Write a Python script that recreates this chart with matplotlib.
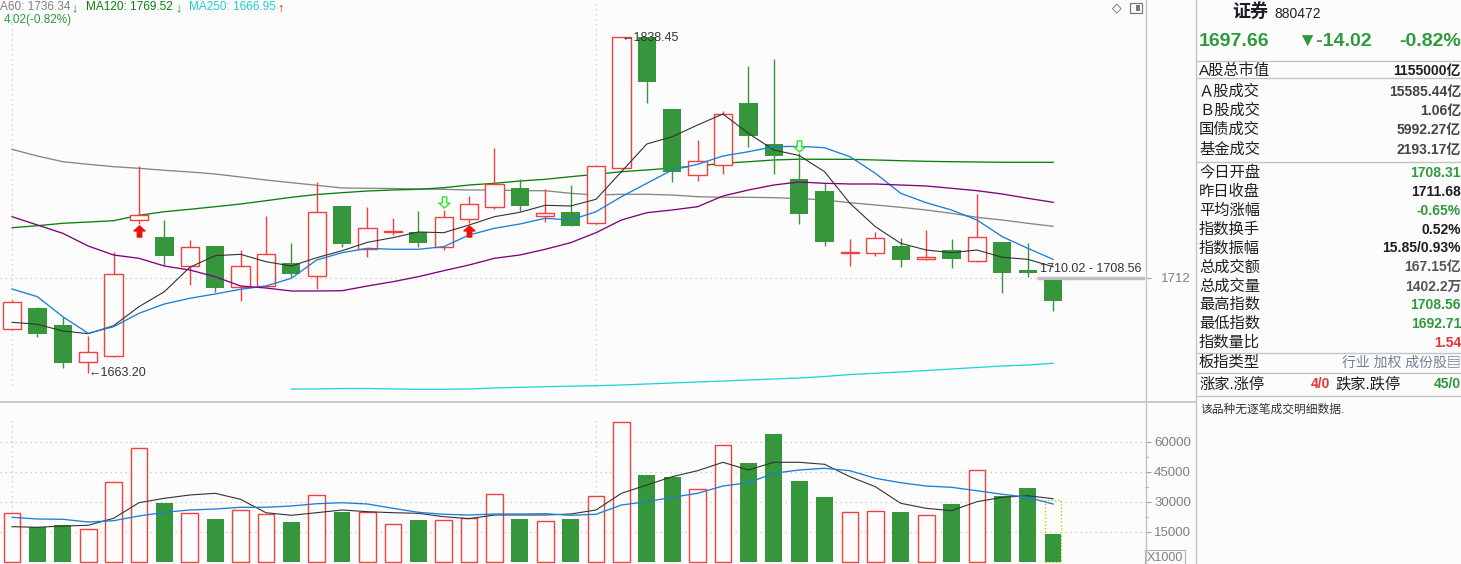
import numpy as np
import matplotlib
matplotlib.use("Agg")
import matplotlib.pyplot as plt
from matplotlib.path import Path
from matplotlib.lines import Line2D
from matplotlib.patches import Rectangle

plt.rcParams['font.family'] = ['Liberation Sans', 'Noto Sans CJK SC', 'DejaVu Sans']

# ---- daily candles (index 880472, 证券) ----
opens = [1684.99, 1696.17, 1687.25, 1667.67, 1671.13, 1742.22, 1733.45, 1718.07, 1728.72, 1707.36,
         1707.72, 1719.64, 1712.82, 1749.72, 1726.99, 1736.20, 1736.07, 1728.36, 1742.74, 1749.04,
         1759.02, 1744.32, 1746.57, 1740.64, 1769.52, 1838.30, 1800.65, 1765.84, 1771.09, 1803.80,
         1782.12, 1763.90, 1757.60, 1725.00, 1724.89, 1728.72, 1721.74, 1726.62, 1720.69, 1730.82,
         1716.10, 1710.90]
closes = [1699.17, 1682.68, 1667.46, 1673.23, 1713.87, 1744.84, 1723.63, 1728.04, 1706.83, 1718.07,
          1724.37, 1714.18, 1746.42, 1729.93, 1738.02, 1736.70, 1730.46, 1743.79, 1750.62, 1761.12,
          1749.88, 1745.89, 1739.38, 1770.57, 1838.30, 1814.98, 1767.73, 1773.19, 1797.87, 1786.63,
          1776.13, 1745.68, 1730.98, 1725.40, 1732.77, 1721.53, 1722.95, 1722.06, 1733.29, 1714.71,
          1714.40, 1700.00]
highs = [1700.37, 1696.50, 1691.61, 1681.63, 1725.42, 1770.72, 1742.37, 1731.87, 1728.90, 1726.62,
         1744.47, 1730.30, 1762.17, 1749.90, 1749.20, 1743.27, 1747.10, 1747.62, 1754.97, 1780.17,
         1763.74, 1758.49, 1760.75, 1770.80, 1838.45, 1838.40, 1800.90, 1784.37, 1799.50, 1823.22,
         1826.90, 1777.39, 1761.64, 1732.40, 1736.23, 1732.77, 1737.12, 1732.40, 1756.02, 1731.00,
         1730.30, 1711.00]
lows = [1684.50, 1681.11, 1664.83, 1661.90, 1670.29, 1740.27, 1718.75, 1708.41, 1704.73, 1700.01,
        1707.40, 1712.61, 1706.31, 1728.36, 1723.11, 1734.50, 1728.36, 1726.62, 1740.96, 1748.15,
        1747.10, 1741.48, 1739.00, 1740.40, 1769.30, 1803.96, 1762.48, 1763.01, 1766.37, 1780.86,
        1766.37, 1740.43, 1728.88, 1718.38, 1723.63, 1717.86, 1721.50, 1717.33, 1720.50, 1704.21,
        1712.60, 1694.80]

# moving averages
ma5 = [1688.67, 1687.62, 1684.10, 1682.68, 1686.88, 1696.86, 1704.73, 1717.54, 1723.63, 1724.37,
       1720.48, 1718.22, 1722.58, 1726.26, 1730.67, 1733.08, 1736.08, 1735.71, 1739.75, 1744.11,
       1746.42, 1750.09, 1749.73, 1753.24, 1767.73, 1782.28, 1786.11, 1792.25, 1798.03, 1787.89,
       1779.13, 1776.24, 1767.73, 1751.14, 1738.86, 1730.14, 1726.63, 1725.21, 1726.63, 1722.79,
       1721.74, 1717.86]
ma10 = [1706.15, 1702.11, 1691.61, 1682.89, 1686.36, 1693.39, 1698.28, 1701.27, 1703.53, 1705.99,
        1707.73, 1711.77, 1721.38, 1725.21, 1727.52, 1727.00, 1727.00, 1728.36, 1734.50, 1738.02,
        1740.28, 1743.27, 1742.38, 1746.73, 1754.61, 1761.64, 1768.63, 1771.62, 1775.98, 1778.23,
        1780.86, 1781.07, 1780.33, 1775.61, 1766.89, 1756.39, 1751.46, 1747.63, 1742.38, 1733.61,
        1727.52, 1721.74]
ma20 = [1744.11, 1739.75, 1735.39, 1728.73, 1724.00, 1722.27, 1718.22, 1716.13, 1712.61, 1707.73,
        1706.68, 1705.10, 1705.10, 1705.26, 1707.73, 1709.98, 1712.61, 1715.76, 1718.75, 1722.27,
        1724.00, 1727.00, 1730.46, 1735.71, 1742.38, 1746.21, 1747.63, 1749.36, 1754.98, 1758.13,
        1760.75, 1762.33, 1761.64, 1761.28, 1761.28, 1760.75, 1760.23, 1759.02, 1757.76, 1756.03,
        1753.77, 1751.67]
ma60 = [1779.49, 1775.98, 1772.98, 1771.62, 1770.36, 1769.52, 1768.47, 1767.58, 1766.53, 1764.95,
        1763.38, 1761.96, 1760.60, 1759.18, 1759.02, 1758.91, 1758.65, 1758.49, 1758.13, 1758.13,
        1757.76, 1757.76, 1756.39, 1755.50, 1755.87, 1755.87, 1755.50, 1754.61, 1754.29, 1754.29,
        1754.08, 1753.66, 1752.88, 1751.46, 1750.25, 1749.04, 1747.63, 1745.89, 1743.79, 1742.38,
        1740.64, 1739.07]
ma120 = [1738.33, 1739.38, 1740.64, 1741.32, 1742.00, 1744.84, 1746.73, 1747.99, 1749.36, 1750.77,
         1752.51, 1754.29, 1755.76, 1756.71, 1757.60, 1758.13, 1758.49, 1759.33, 1760.75, 1761.64,
         1762.85, 1763.74, 1765.11, 1766.37, 1767.73, 1768.63, 1769.68, 1770.73, 1772.14, 1772.98,
         1773.88, 1774.30, 1774.24, 1774.24, 1773.88, 1773.51, 1773.19, 1772.98, 1772.83, 1772.67,
         1772.67, 1772.67]
# MA250 is only drawn from the 12th candle on
ma250 = [1653.65, 1653.65, 1653.91, 1653.91, 1653.65, 1653.49, 1653.49, 1653.65, 1654.18, 1654.54,
         1654.86, 1655.12, 1655.39, 1655.75, 1656.28, 1656.80, 1657.33, 1657.85, 1658.38, 1658.90,
         1659.43, 1660.21, 1661.26, 1661.89, 1662.58, 1663.36, 1664.15, 1664.93, 1665.73, 1666.25,
         1667.14]

# volume (x1000)
volume = [24330, 17330, 18500, 16330, 39830, 56830, 29500, 24330, 21500, 25830,
          23830, 20000, 33330, 25000, 24830, 18830, 21000, 20830, 21830, 33830,
          21500, 20330, 21500, 32830, 69830, 43500, 42500, 36330, 58330, 49500,
          64000, 40500, 32500, 24830, 25330, 25000, 23330, 29000, 45830, 33170,
          37000, 14022]
vol_ma5 = [17650, 17350, 18000, 18350, 21850, 29650, 31850, 33500, 34350, 31350,
           24650, 23350, 24650, 26000, 25150, 24650, 24350, 22650, 21650, 23500,
           23500, 23500, 24000, 26000, 34350, 38500, 42650, 45650, 49850, 46000,
           49850, 49850, 48850, 42650, 37650, 29350, 26850, 25650, 30150, 32350,
           33150, 31650]
vol_ma10 = [22350, 21500, 21350, 20000, 20650, 23000, 24850, 26000, 26500, 27350,
            27350, 28000, 29150, 29650, 29000, 26850, 24850, 23850, 23500, 24000,
            24000, 24150, 23350, 23850, 28500, 30150, 32350, 34350, 38000, 39650,
            44350, 46000, 46850, 45650, 41850, 39650, 38000, 37350, 35650, 33850,
            32350, 29000]
vol_forecast = 31000

# signal arrows
buy_idx = [6, 19]
buy_val = [1736.6, 1736.6]
sell_idx = [18, 32]
sell_val = [1752.0, 1781.1]

price_ticks = [1712]
vol_ticks = [15000, 30000, 45000, 60000]
month_idx = [1, 24]
gap_level = 1711.8

BG = '#fcfcfc'
RED = '#f24040'
GREEN = '#36963c'
GRID = '#c4c4c4'
AXTXT = '#808080'

W, H = 1461, 564


def fx(x):
    return x / W


def fy(y):
    return 1 - y / H


fig = plt.figure(figsize=(W / 100, H / 100), dpi=100, facecolor=BG)
ax_p = fig.add_axes([0, fy(402), fx(1145), 402 / H], facecolor=BG)
ax_v = fig.add_axes([0, 0, fx(1145), 162 / H], facecolor=BG)

o = np.array(opens)
c = np.array(closes)
hi = np.array(highs)
lo = np.array(lows)
idx = np.arange(1, len(o) + 1)
up = c >= o
xlim = (0.527, 45.62)

# ---- price panel ----
body_lo = np.minimum(o, c)
body_h = np.maximum(np.abs(c - o), 0.35)
ax_p.vlines(idx, lo, hi, colors=np.where(up, RED, GREEN), lw=1, zorder=2)
ax_p.bar(idx[up], body_h[up], bottom=body_lo[up], width=0.72,
         facecolor=BG, edgecolor=RED, lw=1, zorder=3)
ax_p.bar(idx[~up], body_h[~up], bottom=body_lo[~up], width=0.72,
         color=GREEN, lw=0, zorder=3)

ax_p.plot(idx, ma5, color='#333333', lw=0.8, zorder=4)
ax_p.plot(idx, ma10, color='#1c7fd6', lw=0.95, zorder=4)
ax_p.plot(idx, ma20, color='#800080', lw=0.95, zorder=4)
ax_p.plot(idx, ma60, color='#858585', lw=0.95, zorder=1)
ax_p.plot(idx, ma120, color='#0a800a', lw=0.95, zorder=1)
ax_p.plot(idx[len(idx) - len(ma250):], ma250, color='#22d4d8', lw=0.95, zorder=1)

# grid
ax_p.hlines(price_ticks, *xlim, colors=GRID, linestyles=(0, (1, 3)), lw=0.9, zorder=0)
ax_p.vlines(month_idx, 1655.5, 1857, colors=GRID, linestyles=(0, (1, 3)), lw=0.9, zorder=0)

# buy / sell markers
arrow = Path([(0, 1), (1, 0.1), (0.4, 0.1), (0.4, -1), (-0.4, -1), (-0.4, 0.1), (-1, 0.1), (0, 1)],
             [Path.MOVETO] + [Path.LINETO] * 6 + [Path.CLOSEPOLY])
arrow_dn = Path(arrow.vertices * [1, -1], arrow.codes)
ax_p.plot(buy_idx, buy_val, ls='none', marker=arrow, ms=8, color='#f01010', zorder=5)
ax_p.plot(sell_idx, sell_val, ls='none', marker=arrow_dn, ms=8, mfc=BG, mec='#2ee82e', mew=1, zorder=5)

# extreme labels
i_lo = int(np.argmin(lo))
i_hi = int(np.argmax(hi))
ax_p.text(idx[i_lo], lo[i_lo], '←1663.20', ha='left', va='center',
          fontsize=9, color='#333333', zorder=6)
ax_p.text(idx[i_hi], hi[i_hi] - 0.3, '←1838.45', ha='left', va='center',
          fontsize=9, color='#333333', zorder=6)
# gap marker
ax_p.hlines(gap_level, 41.36, xlim[1], colors='#c0c0c0', lw=2.5, zorder=2)
ax_p.text(41.47, 1716.6, '1710.02 - 1708.56', ha='left', va='center', fontsize=9, color='#333333', zorder=6)

ax_p.set_xlim(*xlim)
ax_p.set_ylim(1857.875 - 0.525 * 402, 1857.875)

# ---- volume panel ----
vol = np.array(volume, dtype=float)
ax_v.add_patch(Rectangle((idx[-1] - 0.33, 0), 0.66, vol_forecast, fill=False,
                         edgecolor='#c8c800', ls=(0, (1, 1.5)), lw=1, zorder=2))
ax_v.bar(idx[up], vol[up], width=0.66, facecolor=BG, edgecolor=RED, lw=1, zorder=3)
ax_v.bar(idx[~up], vol[~up], width=0.66, color=GREEN, lw=0, zorder=3)
ax_v.plot(idx, vol_ma5, color='#333333', lw=0.8, zorder=4)
ax_v.plot(idx, vol_ma10, color='#1c7fd6', lw=0.95, zorder=4)
ax_v.hlines(vol_ticks, *xlim, colors=GRID, linestyles=(0, (1, 3)), lw=0.9, zorder=0)
ax_v.vlines(month_idx, 0, 71000, colors=GRID, linestyles=(0, (1, 3)), lw=0.9, zorder=0)
ax_v.set_xlim(*xlim)
ax_v.set_ylim(-1000, 80000)

for ax in (ax_p, ax_v):
    for s in ax.spines.values():
        s.set_visible(False)
    ax.set_xticks([])
    ax.yaxis.set_ticks_position('right')
    ax.tick_params(axis='y', which='major', direction='out', length=4, width=0.8,
                   color='#a0a0a0', pad=29, labelsize=9.5, labelcolor=AXTXT)
    ax.tick_params(axis='y', which='minor', direction='out', length=2.5, width=0.8, color='#a0a0a0')

ax_p.set_yticks(price_ticks)
ax_v.set_yticks(vol_ticks)
ax_v.set_yticks([22500, 37500, 52500], minor=True)
for ax in (ax_p, ax_v):
    for lab in ax.get_yticklabels():
        lab.set_horizontalalignment('right')


# ---- frame lines ----
def fline(x0, y0, x1, y1, color='#c4c4c4', lw=1.0):
    fig.add_artist(Line2D([fx(x0), fx(x1)], [fy(y0), fy(y1)], color=color, lw=lw))


fline(1145.5, 0, 1145.5, H)
fline(1196, 0, 1196, H)
fline(0, 402, 1196, 402, lw=1.3)
for yy in [60.5, 78, 162, 353, 373, 396]:
    fline(1196, yy, W, yy)

fig.text(fx(1147), fy(558), 'X1000', ha='left', va='center', fontsize=9, color=AXTXT,
         bbox=dict(boxstyle='square,pad=0.15', fc='none', ec='#b0b0b0', lw=0.8))

# top-right icons
fig.text(fx(1117), fy(8), '◇', ha='center', va='center', fontsize=9, color='#555555',
         family=['DejaVu Sans'])
fig.add_artist(Rectangle((fx(1130), fy(13)), fx(12), 10 / H, fill=False, ec='#777777', lw=0.9))
fig.add_artist(Rectangle((fx(1136), fy(11)), fx(4), 6 / H, color='#777777', lw=0))

# ---- MA legend (left part scrolled out of view, as on screen) ----
fig.text(fx(0), fy(7), 'A60: 1736.34', ha='left', va='center', fontsize=8.5, color='#808080')
fig.text(fx(71), fy(8), '↓', ha='left', va='center', fontsize=9, color='#2e8b2e')
fig.text(fx(86), fy(7), 'MA120: 1769.52', ha='left', va='center', fontsize=8.5, color='#0a800a')
fig.text(fx(175), fy(8), '↓', ha='left', va='center', fontsize=9, color='#2e8b2e')
fig.text(fx(189), fy(7), 'MA250: 1666.95', ha='left', va='center', fontsize=8.5, color='#22ccd4')
fig.text(fx(277), fy(8), '↑', ha='left', va='center', fontsize=9, color='#f01010')
fig.text(fx(4), fy(20), '4.02(-0.82%)', ha='left', va='center', fontsize=8.5, color='#2e9a3a')

# ---- quote panel ----
fig.text(fx(1232), fy(12), '证券', ha='left', va='center', fontsize=13, weight='bold', color='#1c1c2c')
fig.text(fx(1274), fy(14), '880472', ha='left', va='center', fontsize=10, color='#222222')
QG = '#2e9a3a'
fig.text(fx(1199), fy(41), '1697.66', ha='left', va='center', fontsize=14, weight='bold', color=QG)
fig.text(fx(1297), fy(41), '▼-14.02', ha='left', va='center', fontsize=14, weight='bold', color=QG)
fig.text(fx(1461), fy(41), '-0.82%', ha='right', va='center', fontsize=14, weight='bold', color=QG)

info_labels = ['A股总市值', 'Ａ股成交', 'Ｂ股成交', '国债成交', '基金成交', '今日开盘', '昨日收盘',
               '平均涨幅', '指数换手', '指数振幅', '总成交额', '总成交量', '最高指数', '最低指数', '指数量比']
info_values = ['1155000亿', '15585.44亿', '1.06亿', '5992.27亿', '2193.17亿', '1708.31', '1711.68',
               '-0.65%', '0.52%', '15.85/0.93%', '167.15亿', '1402.2万', '1708.56', '1692.71', '1.54']
info_colors = ['#1e1e1e', '#444444', '#444444', '#444444', '#444444', QG, '#1e1e1e',
               QG, '#1e1e1e', '#1e1e1e', '#555555', '#555555', QG, QG, '#f03030']
row_y = [71, 92, 111, 130, 150, 172.7, 192.3, 211, 230, 248.3, 267.3, 286.7, 305, 324, 342.7]

for lab, val, col, yy in zip(info_labels, info_values, info_colors, row_y):
    fig.text(fx(1199), fy(yy), lab, ha='left', va='center', fontsize=11, color='#1e1e1e')
    fig.text(fx(1461), fy(yy), val, ha='right', va='center', fontsize=10, weight='bold', color=col)

fig.text(fx(1199), fy(362.7), '板指类型', ha='left', va='center', fontsize=11, color='#1e1e1e')
fig.text(fx(1461), fy(362.7), '行业 加权 成份股▤', ha='right', va='center', fontsize=10, color='#6f8294')
fig.text(fx(1199), fy(384.3), '涨家.涨停', ha='left', va='center', fontsize=11, color='#1e1e1e')
fig.text(fx(1330), fy(384.3), '4/0', ha='right', va='center', fontsize=10, weight='bold', color='#f03030')
fig.text(fx(1335), fy(384.3), '跌家.跌停', ha='left', va='center', fontsize=11, color='#1e1e1e')
fig.text(fx(1461), fy(384.3), '45/0', ha='right', va='center', fontsize=10, weight='bold', color=QG)
fig.text(fx(1200), fy(410), '该品种无逐笔成交明细数据.', ha='left', va='center', fontsize=8.5, color='#333333')

fig.savefig('out.png', dpi=100, facecolor=BG)
